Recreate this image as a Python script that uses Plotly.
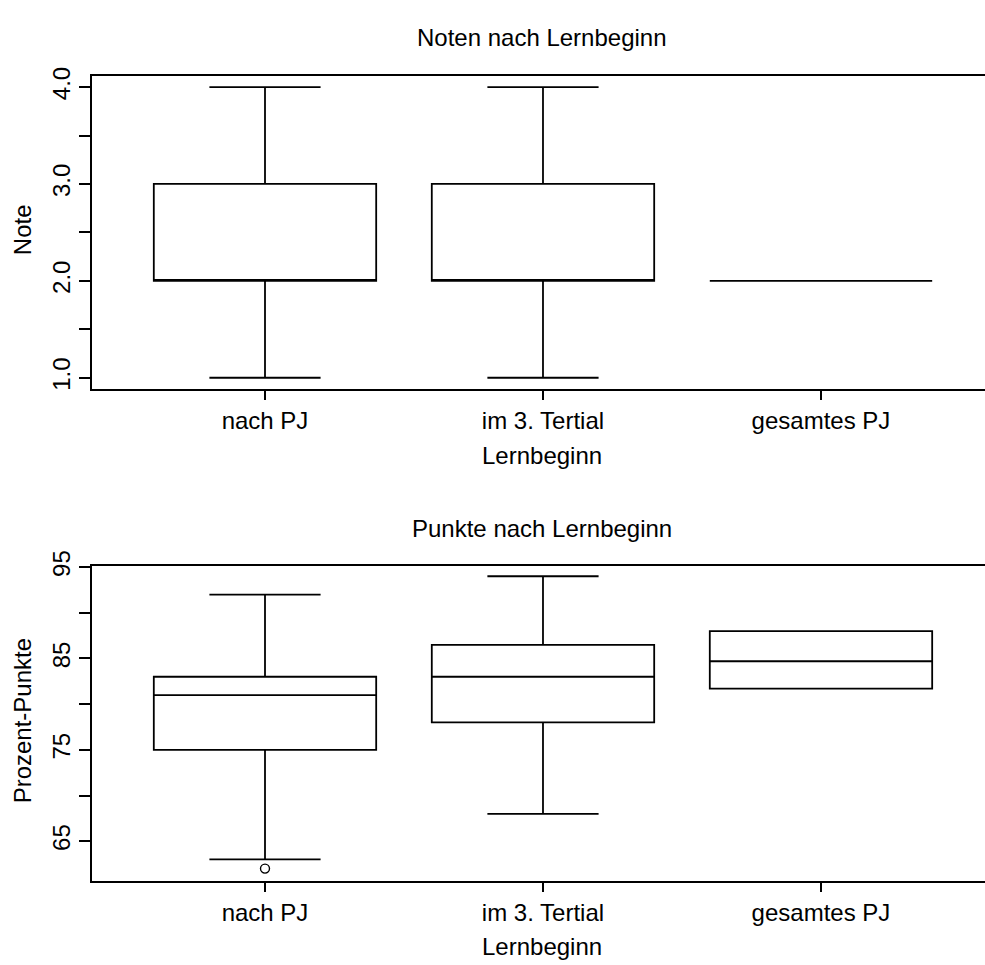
import plotly.graph_objects as go

# ---- data ----
categories = ["nach PJ", "im 3. Tertial", "gesamtes PJ"]

note_lower = [1, 1, 2]
note_q1 = [2, 2, 2]
note_median = [2, 2, 2]
note_q3 = [3, 3, 2]
note_upper = [4, 4, 2]

punkte_lower = [63, 68, 81.7]
punkte_q1 = [75, 78, 81.7]
punkte_median = [81, 83, 84.7]
punkte_q3 = [83, 86.5, 88]
punkte_upper = [92, 94, 88]

outlier_cat = ["nach PJ"]
outlier_val = [62]

# ---- geometry helpers (pixel -> paper) ----
W, H = 985, 965
ML = 92
PW = W - ML


def px(x):
    return (x - ML) / PW


def py(y):
    return 1 - y / H


FONT = "Liberation Sans, Arial, sans-serif"
FS = 24
LW = 1.8

fig = go.Figure()

fig.add_trace(go.Box(
    x=categories, q1=note_q1, median=note_median, q3=note_q3,
    lowerfence=note_lower, upperfence=note_upper,
    width=0.8, whiskerwidth=0.5, boxpoints=False,
    line=dict(color="black", width=LW), fillcolor="rgba(0,0,0,0)",
    xaxis="x", yaxis="y", showlegend=False, hoverinfo="skip",
))

fig.add_trace(go.Box(
    x=categories, q1=punkte_q1, median=punkte_median, q3=punkte_q3,
    lowerfence=punkte_lower, upperfence=punkte_upper,
    width=0.8, whiskerwidth=0.5, boxpoints=False,
    line=dict(color="black", width=LW), fillcolor="rgba(0,0,0,0)",
    xaxis="x2", yaxis="y2", showlegend=False, hoverinfo="skip",
))

fig.add_trace(go.Scatter(
    x=outlier_cat, y=outlier_val, mode="markers",
    marker=dict(symbol="circle-open", size=9, color="black", line=dict(width=1.4)),
    xaxis="x2", yaxis="y2", showlegend=False, hoverinfo="skip",
))

xr = [-0.6223, 2.590]

common_x = dict(
    type="category", categoryorder="array", categoryarray=categories,
    range=xr, showline=True, linecolor="black", linewidth=LW, mirror=True,
    ticks="outside", ticklen=9, tickwidth=LW, tickcolor="black",
    showgrid=False, zeroline=False,
    tickfont=dict(family=FONT, size=FS, color="black"),
)

common_y = dict(
    showline=True, linecolor="black", linewidth=LW, mirror=False,
    ticks="outside", ticklen=11, tickwidth=LW, tickcolor="black",
    showgrid=False, zeroline=False, tickangle=-90,
    tickfont=dict(family=FONT, size=FS, color="black"),
)

fig.update_layout(
    width=W, height=H,
    margin=dict(l=ML, r=0, t=0, b=0),
    paper_bgcolor="white", plot_bgcolor="white",
    font=dict(family=FONT, size=FS, color="black"),
    xaxis=dict(domain=[0, 1], anchor="y", **common_x),
    yaxis=dict(domain=[py(380), py(60.7)], anchor="x", range=[0.881, 4.118],
               tick0=1, dtick=1, tickformat=".1f",
               minor=dict(ticks="outside", ticklen=11, tickwidth=LW, tickcolor="black",
                          tick0=1, dtick=0.5, showgrid=False),
               **common_y),
    xaxis2=dict(domain=[0, 1], anchor="y2", **common_x),
    yaxis2=dict(domain=[py(881), py(560)], anchor="x2", range=[60.59, 95.11],
                tick0=65, dtick=10,
                minor=dict(ticks="outside", ticklen=11, tickwidth=LW, tickcolor="black",
                           tick0=65, dtick=5, showgrid=False),
                **common_y),
    annotations=[
        dict(text="Noten nach Lernbeginn", x=px(542), y=py(22), xref="paper", yref="paper",
             showarrow=False, xanchor="center", yanchor="middle"),
        dict(text="Lernbeginn", x=px(542), y=py(447), xref="paper", yref="paper",
             showarrow=False, xanchor="center", yanchor="middle"),
        dict(text="Note", x=px(22), y=py(218), xref="paper", yref="paper",
             showarrow=False, xanchor="center", yanchor="middle", textangle=-90),
        dict(text="Punkte nach Lernbeginn", x=px(542), y=py(522), xref="paper", yref="paper",
             showarrow=False, xanchor="center", yanchor="middle"),
        dict(text="Lernbeginn", x=px(542), y=py(947), xref="paper", yref="paper",
             showarrow=False, xanchor="center", yanchor="middle"),
        dict(text="Prozent-Punkte", x=px(22), y=py(718), xref="paper", yref="paper",
             showarrow=False, xanchor="center", yanchor="middle", textangle=-90),
    ],
)

fig.write_html("out.html")
